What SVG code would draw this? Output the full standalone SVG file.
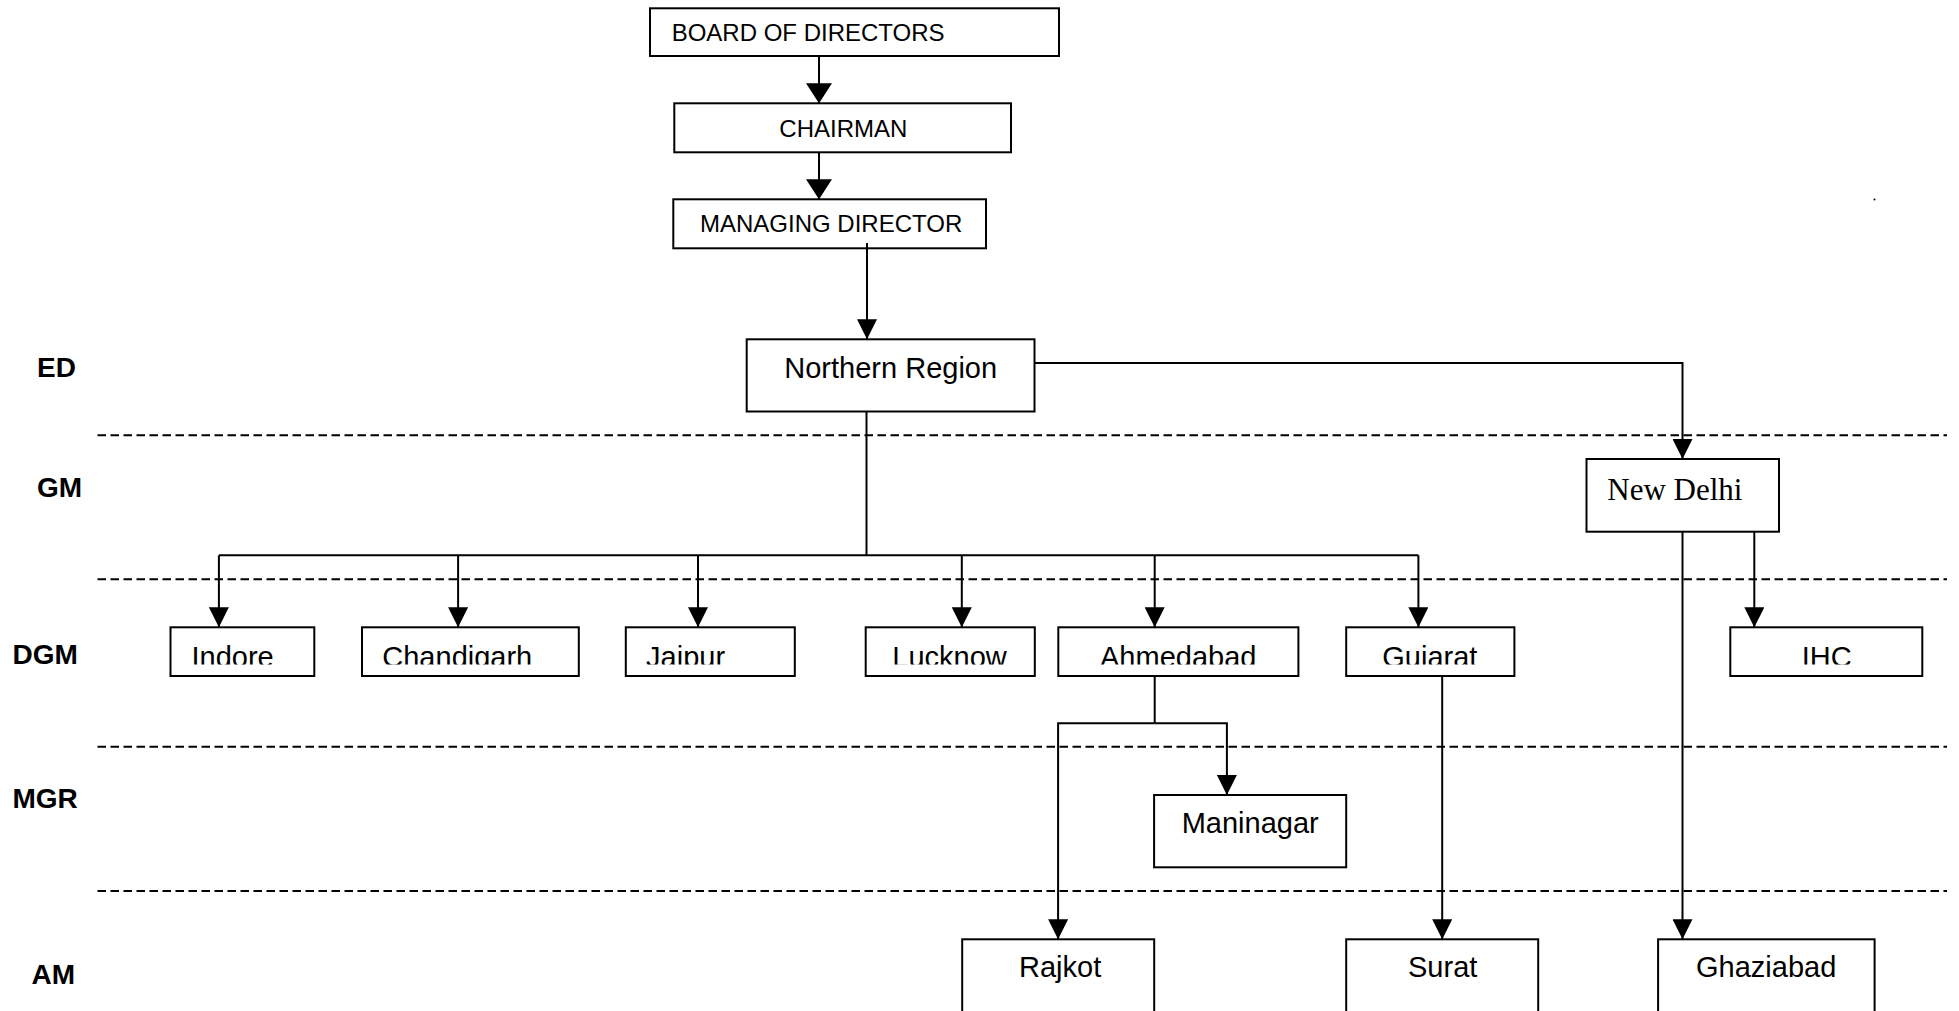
<svg xmlns="http://www.w3.org/2000/svg" width="1959" height="1011" viewBox="0 0 1959 1011">
<style>
.box{fill:#fff;stroke:#000;stroke-width:2}
.t{font-family:"Liberation Sans",Arial,sans-serif;fill:#000}
.s{font-size:24px}
.m{font-size:29px}
.serif{font-family:"Liberation Serif","Times New Roman",serif;font-size:31px;fill:#000}
.lab{font-family:"Liberation Sans",Arial,sans-serif;font-weight:bold;font-size:28px;fill:#000}
.c{fill:none;stroke:#000;stroke-width:2}
.a{marker-end:url(#arr)}
.a2{marker-end:url(#arrW)}
.dash{fill:none;stroke:#000;stroke-width:2;stroke-dasharray:8.5 4.5}
</style>
<defs>
<marker id="arr" markerUnits="userSpaceOnUse" markerWidth="20" markerHeight="20" refX="20" refY="10" orient="auto">
<path d="M0,0 L20,10 L0,20 z" fill="#000"/>
</marker>
<marker id="arrW" markerUnits="userSpaceOnUse" markerWidth="20" markerHeight="26" refX="20" refY="13" orient="auto">
<path d="M0,0 L20,13 L0,26 z" fill="#000"/>
</marker>
<clipPath id="clipDGM" clipPathUnits="userSpaceOnUse">
<rect x="0" y="600" width="1959" height="64.5"/>
</clipPath>
</defs>
<rect width="1959" height="1011" fill="#fff"/>

<g id="levels">
<text class="lab" x="37" y="377">ED</text>
<text class="lab" x="37" y="497">GM</text>
<text class="lab" x="12.5" y="664">DGM</text>
<text class="lab" x="12.5" y="808">MGR</text>
<text class="lab" x="31.5" y="984">AM</text>
<path class="dash" d="M97.5,435.3 H1947 M97.5,579.3 H1947 M97.5,746.7 H1947 M97.5,891 H1947"/>
<circle cx="1874.5" cy="199.5" r="1" fill="#000"/>
</g>

<g id="connectors">
<path class="c a2" d="M819,56 V103.3"/>
<path class="c a2" d="M819,152.3 V199.3"/>
<path class="c a" d="M867,243 V339.3"/>
<path class="c a" d="M1034.5,363 H1682.5 V459"/>
<path class="c" d="M866.5,411.5 V555.3 M218.9,555.3 H1418.4"/>
<path class="c a" d="M218.9,555.3 V627.3"/>
<path class="c a" d="M458.1,555.3 V627.3"/>
<path class="c a" d="M698,555.3 V627.3"/>
<path class="c a" d="M961.8,555.3 V627.3"/>
<path class="c a" d="M1154.7,555.3 V627.3"/>
<path class="c a" d="M1418.4,555.3 V627.3"/>
<path class="c a" d="M1754.3,531.7 V627.3"/>
<path class="c a" d="M1682.5,531.7 V939.3"/>
<path class="c" d="M1154.7,676 V723.3"/>
<path class="c a" d="M1154.7,723.3 H1058.1 V939.3"/>
<path class="c a" d="M1154.7,723.3 H1226.9 V795"/>
<path class="c a" d="M1442.2,676 V939.3"/>
</g>

<g id="board"><rect class="box" x="650" y="8.3" width="409" height="47.7"/><text class="t s" x="671.7" y="40.7">BOARD OF DIRECTORS</text></g>
<g id="chairman"><rect class="box" x="674.3" y="103.3" width="336.7" height="49"/><text class="t s" x="779.3" y="136.7">CHAIRMAN</text></g>
<g id="md"><rect class="box" x="673.3" y="199.3" width="312.7" height="49"/><text class="t s" x="700" y="232.3">MANAGING DIRECTOR</text></g>
<path class="c" d="M867,243 V248.3"/>
<g id="northern"><rect class="box" x="746.7" y="339.3" width="287.8" height="72.2"/><text class="t m" x="784.3" y="378">Northern Region</text></g>
<g id="newdelhi"><rect class="box" x="1586.5" y="459" width="192.5" height="72.7"/><text class="serif" x="1607.3" y="500">New Delhi</text></g>

<g id="indore"><rect class="box" x="170.5" y="627.3" width="143.8" height="48.7"/><text class="t m" x="191.5" y="667" clip-path="url(#clipDGM)">Indore</text></g>
<g id="chandigarh"><rect class="box" x="362" y="627.3" width="216.8" height="48.7"/><text class="t m" x="382.3" y="667" clip-path="url(#clipDGM)">Chandigarh</text></g>
<g id="jaipur"><rect class="box" x="625.8" y="627.3" width="169" height="48.7"/><text class="t m" x="646.1" y="667" clip-path="url(#clipDGM)">Jaipur</text></g>
<g id="lucknow"><rect class="box" x="865.7" y="627.3" width="169.1" height="48.7"/><text class="t m" x="892.3" y="667" clip-path="url(#clipDGM)">Lucknow</text></g>
<g id="ahmedabad"><rect class="box" x="1058.3" y="627.3" width="240.1" height="48.7"/><text class="t m" x="1100" y="667" clip-path="url(#clipDGM)">Ahmedabad</text></g>
<g id="gujarat"><rect class="box" x="1346.2" y="627.3" width="168.2" height="48.7"/><text class="t m" x="1382.3" y="667" clip-path="url(#clipDGM)">Gujarat</text></g>
<g id="ihc"><rect class="box" x="1730.3" y="627.3" width="192" height="48.7"/><text class="t m" x="1801.8" y="667" clip-path="url(#clipDGM)">IHC</text></g>

<g id="maninagar"><rect class="box" x="1154.1" y="795" width="192.1" height="72.3"/><text class="t m" x="1181.7" y="833.3">Maninagar</text></g>

<g id="rajkot"><rect class="box" x="962.2" y="939.3" width="192" height="74"/><text class="t m" x="1019" y="977">Rajkot</text></g>
<g id="surat"><rect class="box" x="1346.2" y="939.3" width="192" height="74"/><text class="t m" x="1408" y="977">Surat</text></g>
<g id="ghaziabad"><rect class="box" x="1658.1" y="939.3" width="216.5" height="74"/><text class="t m" x="1696" y="977">Ghaziabad</text></g>
</svg>
